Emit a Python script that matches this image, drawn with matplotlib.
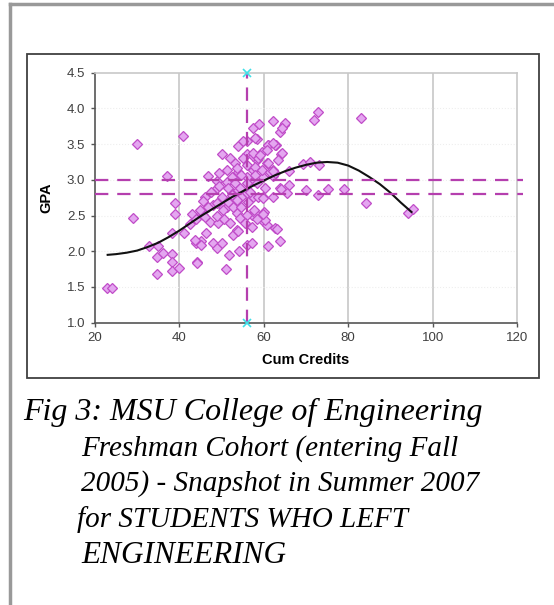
import matplotlib
matplotlib.use("Agg")
from matplotlib import pyplot as plt
from matplotlib.patches import Rectangle
from matplotlib.lines import Line2D

# scatter: cumulative credits vs GPA
credits = [22.9, 24.1, 29, 29.9, 32.9, 35, 34.6, 36.2, 34.8, 38.2, 38.2, 38.2, 40, 38.2, 41.1,
           38.9, 38.9, 37, 40.9, 43, 43.9, 45.2, 44.1, 44.1, 43.7, 45.1, 45.3, 45.7, 46.4, 47.2,
           48, 48, 48.9, 49.2, 50, 50.4, 51, 51.7, 52.8, 53.6, 54, 54.1, 56, 57.1, 57.1, 59.9,
           60.7, 60.3, 60.1, 61.1, 62.7, 63.8, 63.1, 51.2, 53.6, 54.4, 57.1, 57.9, 44.9, 46.8,
           48.8, 50.4, 52.7, 54.7, 56, 57.7, 59.9, 46, 48.8, 50, 52.4, 54, 56, 57.5, 59.9, 62.2,
           46.8, 48.8, 51.2, 52.7, 56, 57.7, 59.9, 62.2, 51.2, 54, 57.5, 62.2, 53.2, 56, 58.3,
           60.7, 50, 56, 57.5, 59.5, 64, 54, 60.9, 63, 56, 58.3, 57.5, 58.8, 62.2, 63.8, 64.8,
           55.1, 58.7, 61.1, 63.4, 53.6, 57.9, 59.5, 61.5, 52.4, 54.7, 57.9, 62.7, 53.2, 56,
           58.3, 51.6, 54.4, 56.7, 60.3, 52.4, 54.7, 58.7, 51.6, 53.6, 56.3, 59.9, 63.8, 57.9,
           61.1, 62.7, 64.2, 57.5, 59.1, 60.7, 72.9, 71.9, 83, 65, 64.2, 62.1, 62.1, 66, 69.2,
           70.9, 73.1, 64.1, 66, 65.4, 69.9, 72.9, 75.1, 79.1, 84.1, 94.1, 95.3, 47.5, 49.5,
           45.5, 44, 42.5, 46, 49, 50.5, 52, 55.5, 58.5, 49.5, 52, 55]
gpa = [1.48, 1.48, 2.47, 3.5, 2.07, 2.07, 1.92, 1.97, 1.68, 1.96, 1.85, 1.73, 1.76, 2.25, 2.25,
       2.67, 2.52, 3.06, 3.61, 2.52, 2.11, 2.15, 1.85, 1.83, 2.16, 2.09, 2.55, 2.51, 2.25, 2.41,
       2.65, 2.11, 2.04, 2.39, 2.12, 2.62, 1.75, 1.95, 2.23, 2.30, 2.29, 2.01, 2.09, 2.12, 2.34,
       2.43, 2.37, 2.44, 2.55, 2.07, 2.32, 2.15, 2.31, 2.62, 2.53, 2.46, 2.51, 2.53, 2.58, 2.62,
       2.67, 2.58, 2.62, 2.62, 2.51, 2.58, 2.52, 2.76, 2.88, 2.76, 2.81, 2.86, 2.81, 2.76, 2.76,
       2.76, 3.05, 2.99, 2.97, 3.02, 3.04, 2.99, 3.04, 3.06, 3.14, 3.11, 3.14, 3.14, 3.23, 3.21,
       3.28, 3.23, 3.36, 3.36, 3.33, 3.39, 3.36, 3.47, 3.49, 3.49, 3.55, 3.57, 3.72, 3.78, 3.82,
       3.67, 3.77, 3.31, 3.30, 3.23, 3.28, 3.16, 3.18, 3.14, 3.11, 3.04, 3.07, 3.07, 3.09, 2.95,
       2.95, 2.95, 2.88, 2.88, 2.83, 2.88, 2.79, 2.76, 2.76, 2.69, 2.72, 2.69, 2.74, 2.88, 3.58,
       3.49, 3.49, 3.37, 3.37, 3.35, 3.42, 3.95, 3.84, 3.87, 3.79, 3.72, 3.51, 3.13, 3.13, 3.22,
       3.25, 3.21, 2.87, 2.93, 2.81, 2.86, 2.79, 2.87, 2.87, 2.68, 2.54, 2.59, 2.83, 2.92,
       2.70, 2.45, 2.38, 2.48, 2.50, 2.45, 2.40, 2.40, 2.45, 3.10, 3.30, 3.55]

# polynomial trend line, every 2.5 credits
trend_x = [23, 25, 27.5, 30, 32.5, 35, 37.5, 40, 42.5, 45, 47.5, 50, 52.5, 55, 57.5, 60,
           62.5, 65, 67.5, 70, 72.5, 75, 77.5, 80, 82.5, 85, 87.5, 90, 92.5, 95]
trend_y = [1.95, 1.96, 1.98, 2.01, 2.06, 2.12, 2.20, 2.29, 2.39, 2.49, 2.58, 2.67, 2.76, 2.84,
           2.92, 2.99, 3.06, 3.12, 3.17, 3.21, 3.24, 3.25, 3.24, 3.20, 3.13, 3.04, 2.94, 2.82,
           2.68, 2.55]

vline_x = 56
hlines_y = [3.0, 2.8]

W, H = 554, 605
fig = plt.figure(figsize=(W / 100, H / 100), dpi=100)
fig.patch.set_facecolor("white")

# page border (gray, left + top) and chart frame
fig.add_artist(Line2D([10 / W, 10 / W], [0, 1 - 4 / H], color="#999999", lw=2.5))
fig.add_artist(Line2D([10 / W, 1], [1 - 4 / H, 1 - 4 / H], color="#999999", lw=2.5))
fig.add_artist(Rectangle((27 / W, 1 - 378 / H), (539 - 27) / W, (378 - 54) / H,
                         fill=False, ec="#404040", lw=1.3))

ax = fig.add_axes([95 / W, 1 - 322.7 / H, (517 - 95) / W, 250 / H])
ax.set_xlim(20, 120)
ax.set_ylim(1.0, 4.5)
ax.set_xticks([20, 40, 60, 80, 100, 120])
ax.set_yticks([1.0, 1.5, 2.0, 2.5, 3.0, 3.5, 4.0, 4.5])
ax.set_yticklabels(["%.1f" % v for v in ax.get_yticks()])

for x in [40, 60, 80, 100]:
    ax.axvline(x, color="#cfcfcf", lw=1.4, zorder=0)
for y in [1.5, 2.0, 2.5, 3.0, 3.5, 4.0]:
    ax.axhline(y, color="#eeeeee", lw=0.8, ls=":", zorder=0)

for s in ["top", "right"]:
    ax.spines[s].set_color("#c8c8c8")
    ax.spines[s].set_linewidth(1.2)
for s in ["left", "bottom"]:
    ax.spines[s].set_color("#555555")
    ax.spines[s].set_linewidth(1.2)

ax.tick_params(direction="out", length=3, width=1, color="#555555",
               labelsize=9.5, labelcolor="#404040", pad=4)
for lab in ax.get_xticklabels() + ax.get_yticklabels():
    lab.set_family("Liberation Sans")

ax.plot(credits, gpa, ls="none", marker="D", ms=5.6, mfc="#e4a6f0", mec="#c04cc8",
        mew=0.9, zorder=3)
ax.plot(trend_x, trend_y, color="#111111", lw=1.5, zorder=4)

dash = dict(color="#b53fae", lw=1.6, dashes=(6, 4), zorder=5)
ax.plot([vline_x, vline_x], [1.0, 4.5], **dash)
for y in hlines_y:
    ax.plot([20, 121.5], [y, y], clip_on=False, **dash)
ax.plot([vline_x, vline_x], [1.0, 4.5], ls="none", marker="x", ms=6, mew=1.2,
        color="#3fe0e8", clip_on=False, zorder=6)

ax.set_xlabel("Cum Credits", fontsize=10.5, fontweight="bold", family="Liberation Sans",
              labelpad=6)
ax.set_ylabel("GPA", fontsize=10.5, fontweight="bold", family="Liberation Sans",
              labelpad=10)

# caption
lines = ["Fig 3: MSU College of Engineering",
         "Freshman Cohort (entering Fall",
         "2005) - Snapshot in Summer 2007",
         "for STUDENTS WHO LEFT",
         "ENGINEERING"]
sizes = [23, 21, 21, 21, 22.5]
base = [420, 456, 491, 527, 563]
xs = [23, 81, 81, 77, 81]
for t, sz, b, x in zip(lines, sizes, base, xs):
    fig.text(x / W, 1 - b / H, t, fontsize=sz, style="italic", family="Liberation Serif",
             va="baseline", color="black")

plt.savefig("out.png", dpi=100)
